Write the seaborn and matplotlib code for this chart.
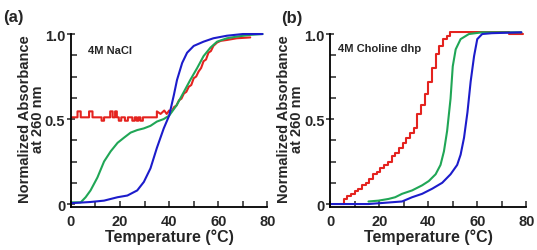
import matplotlib
matplotlib.use("Agg")
import matplotlib.pyplot as plt
import seaborn as sns
import pandas as pd
from matplotlib.ticker import MultipleLocator

# panel (a): 4M NaCl
red_a_t = [0, 2.7, 2.7, 4, 4, 7.4, 7.4, 8.8, 8.8, 12.5, 12.5, 13.5, 13.5, 16, 16, 17, 17, 18, 18, 18.7,
           18.7, 19.5, 19.5, 20.5, 20.5, 22, 22, 23.2, 23.2, 25, 25, 26, 26, 26.8, 26.8, 27.5, 27.5,
           28.3, 28.3, 29.3, 29.3, 35, 35, 36.5, 38, 39, 40, 41, 42, 43, 44, 45, 46, 47, 48, 49, 50, 51,
           52, 53, 54, 55, 56, 57, 58, 59.5, 61, 63.5, 67.5, 73]
red_a_y = [0.51, 0.51, 0.545, 0.545, 0.51, 0.51, 0.545, 0.545, 0.51, 0.51, 0.49, 0.49, 0.51, 0.51, 0.545,
           0.545, 0.51, 0.51, 0.545, 0.545, 0.51, 0.51, 0.49, 0.49, 0.51, 0.51, 0.49, 0.49, 0.51, 0.51,
           0.49, 0.49, 0.51, 0.51, 0.49, 0.49, 0.51, 0.51, 0.49, 0.49, 0.51, 0.51, 0.545, 0.53, 0.55,
           0.53, 0.55, 0.545, 0.57, 0.58, 0.61, 0.62, 0.65, 0.66, 0.69, 0.70, 0.74, 0.75, 0.78, 0.80,
           0.84, 0.85, 0.89, 0.90, 0.93, 0.95, 0.96, 0.965, 0.975, 0.98]
green_a_t = [0, 4, 6, 8, 10.8, 13.5, 16.2, 19, 21.6, 24.3, 27, 29.7, 32.4, 35, 37.8, 40, 43, 46, 48.6,
             51.4, 54, 56.8, 59.5, 63.5, 67.6, 73, 78]
green_a_y = [0.01, 0.01, 0.04, 0.08, 0.156, 0.25, 0.31, 0.36, 0.39, 0.42, 0.435, 0.445, 0.46, 0.485, 0.50,
             0.52, 0.58, 0.66, 0.73, 0.80, 0.87, 0.92, 0.955, 0.975, 0.985, 0.995, 1.0]
blue_a_t = [0, 8, 13.5, 19, 23, 27, 29.7, 32.4, 35, 37.8, 40, 41.9, 43.2, 45.3, 47.3, 50, 54, 58, 63.5,
            70, 78]
blue_a_y = [0.005, 0.012, 0.02, 0.04, 0.05, 0.08, 0.13, 0.21, 0.33, 0.445, 0.52, 0.64, 0.73, 0.83, 0.89,
            0.93, 0.955, 0.975, 0.99, 1.0, 1.0]

# panel (b): 4M Choline dhp
red_b_t = [4, 5.5, 7, 8.5, 10, 11.5, 13, 14.5, 16, 17.5, 19, 20.5, 22, 23.5, 25, 26.5, 28, 29.5, 31,
           32.5, 34, 35.5, 37, 38.5, 40, 41.5, 43, 44.5, 46, 47.5, 49, 73, 78.5]
red_b_y = [0.0, 0.03, 0.045, 0.06, 0.075, 0.09, 0.11, 0.125, 0.15, 0.175, 0.19, 0.21, 0.23, 0.25, 0.28,
           0.30, 0.33, 0.36, 0.39, 0.42, 0.45, 0.53, 0.58, 0.65, 0.72, 0.80, 0.88, 0.93, 0.97, 0.99, 1.01,
           1.0, 1.0]
green_b_t = [15.6, 19.7, 23.8, 26.5, 29.3, 33.4, 37.5, 40.2, 43, 45, 46.4, 47.7, 49.1, 50, 51.2, 53.2,
             56.6, 62, 78]
green_b_y = [0.015, 0.02, 0.03, 0.04, 0.06, 0.08, 0.11, 0.135, 0.175, 0.23, 0.31, 0.43, 0.62, 0.81, 0.91,
             0.97, 1.0, 1.01, 1.01]
blue_b_t = [0, 6, 15.6, 29.3, 33.4, 37.5, 41.6, 45.7, 49.1, 51.8, 53.2, 54.6, 56, 57.3, 58.7, 60, 62,
            66, 78]
blue_b_y = [0.0, 0.0, 0.0, 0.015, 0.04, 0.06, 0.09, 0.125, 0.175, 0.23, 0.29, 0.39, 0.54, 0.72, 0.87,
            0.97, 1.0, 1.005, 1.01]

RED = "#e4231f"
GREEN = "#20a656"
BLUE = "#1c1ccb"

sns.set_style("white")
plt.rcParams["font.family"] = ["Liberation Sans", "DejaVu Sans"]
plt.rcParams["font.weight"] = "bold"

fig = plt.figure(figsize=(5.37, 2.51), dpi=100)
ax_a = fig.add_axes([0.132, 0.173, 0.366, 0.701])
ax_b = fig.add_axes([0.615, 0.173, 0.365, 0.701])

panels = [
    (ax_a, "4M NaCl", (6.9, 0.906), [(red_a_t, red_a_y, RED, "default"),
                                     (green_a_t, green_a_y, GREEN, "default"),
                                     (blue_a_t, blue_a_y, BLUE, "default")]),
    (ax_b, "4M Choline dhp", (3.3, 0.92), [(red_b_t, red_b_y, RED, "steps-post"),
                                            (green_b_t, green_b_y, GREEN, "default"),
                                            (blue_b_t, blue_b_y, BLUE, "default")]),
]

for ax, label, pos, series in panels:
    for t, y, color, ds in series:
        df = pd.DataFrame({"t": t, "y": y})
        sns.lineplot(data=df, x="t", y="y", ax=ax, color=color, linewidth=1.5,
                     sort=False, estimator=None, drawstyle=ds)
    ax.set_xlim(0, 80)
    ax.set_ylim(-0.015, 1.02)
    ax.spines["top"].set_visible(False)
    ax.spines["right"].set_visible(False)
    ax.spines["left"].set_bounds(-0.015, 1.0)
    for s in ["left", "bottom"]:
        ax.spines[s].set_linewidth(1.3)
        ax.spines[s].set_color("black")
    ax.set_xticks([0, 20, 40, 60, 80])
    ax.set_xticklabels(["0", "20", "40", "60", "80"])
    ax.xaxis.set_minor_locator(MultipleLocator(10))
    ax.set_yticks([0, 0.5, 1.0])
    ax.set_yticklabels(["0", "0.5", "1.0"])
    ax.yaxis.set_minor_locator(MultipleLocator(0.125))
    ax.tick_params(axis="x", which="both", direction="in", length=4, width=1.1, labelsize=10.5, pad=5)
    ax.tick_params(axis="y", which="major", direction="inout", length=6, width=1.1, labelsize=10.5, pad=1)
    ax.tick_params(axis="y", which="minor", direction="in", length=4, width=1.1)
    ax.tick_params(left=True, bottom=True, which="both")
    ax.set_xlabel("Temperature (\u00b0C)", fontsize=11.5, fontweight="bold", labelpad=1)
    ax.set_ylabel("Normalized Absorbance\nat 260 nm", fontsize=10.5, fontweight="bold",
                  linespacing=0.9, labelpad=0)
    ax.text(pos[0], pos[1], label, fontsize=8, fontweight="bold", va="center", ha="left")

fig.text(0.006, 0.93, "(a)", fontsize=12, fontweight="bold", va="center", ha="left")
fig.text(0.524, 0.925, "(b)", fontsize=12, fontweight="bold", va="center", ha="left")

fig.savefig("out.png", dpi=100)
